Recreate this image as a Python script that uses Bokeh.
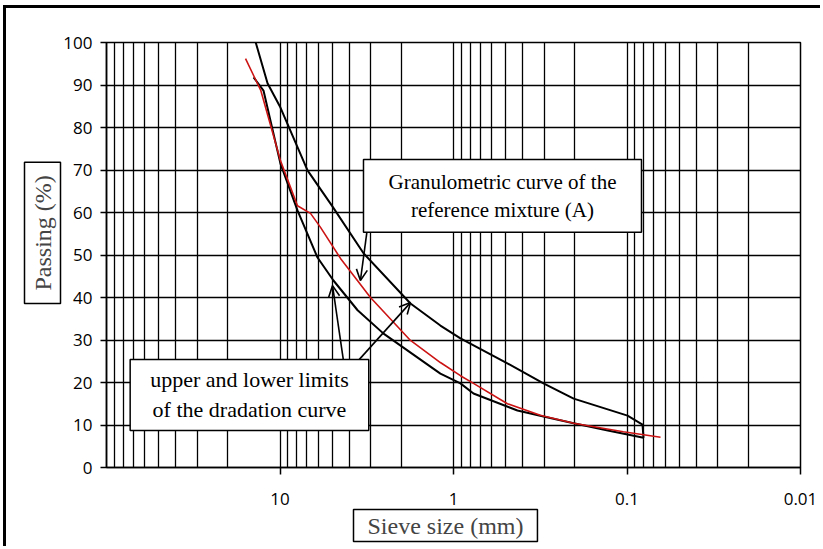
import math
from bokeh.plotting import figure
from bokeh.models import (Range1d, FixedTicker, CustomJSTickFormatter, Label, Arrow, OpenHead, Title)
from bokeh.embed import file_html
from bokeh.resources import INLINE

# ---- data ----
sieve_upper = [13.8, 11.8, 9.94, 6.94, 5.0, 3.30, 1.77, 1.19, 0.912, 0.489, 0.303, 0.203, 0.0993, 0.0814, 0.0803]
pass_upper = [100, 90.4, 84.7, 69.9, 61.5, 50.4, 38.6, 33.4, 30.4, 24.5, 19.8, 16.2, 12.2, 10.1, 7.0]

sieve_lower = [14.2, 12.45, 9.94, 7.93, 6.08, 4.92, 3.57, 2.53, 1.19, 0.912, 0.767, 0.428, 0.303, 0.203, 0.129, 0.0803]
pass_lower = [91.8, 88.7, 71.5, 60.5, 49.4, 44.0, 37.0, 31.5, 22.1, 19.8, 17.4, 13.4, 12.0, 10.4, 8.7, 7.0]

sieve_mix = [15.8, 12.9, 9.94, 7.93, 6.67, 5.84, 4.48, 3.01, 1.77, 1.19, 0.912, 0.767, 0.489, 0.316, 0.203, 0.105, 0.0641]
pass_mix = [96.2, 88.7, 72.2, 61.6, 59.8, 56.5, 49.2, 40.0, 29.9, 24.7, 21.6, 19.8, 15.0, 12.3, 10.4, 8.4, 7.1]

x_ticks = [10, 1, 0.1, 0.01]
y_ticks = [0, 10, 20, 30, 40, 50, 60, 70, 80, 90, 100]

serif = "Liberation Serif"
sans = "Open Sans"

p = figure(width=817, height=541, x_axis_type="log",
           x_range=Range1d(100, 0.01), y_range=Range1d(0, 100),
           output_backend="svg", toolbar_location=None,
           min_border_left=95, min_border_right=23, min_border_top=34, min_border_bottom=82)
p.styles = {"margin-left": "3px", "margin-top": "5px",
            "border-top": "3px solid black", "border-left": "3px solid black"}

p.outline_line_color = "black"
p.outline_line_width = 1.5

# grid
grid_ticks = []
for e in range(-2, 2):
    for m in range(1, 10):
        grid_ticks.append(m * 10 ** e)
grid_ticks.append(100)
p.xgrid.ticker = FixedTicker(ticks=grid_ticks)
p.xgrid.grid_line_color = "black"
p.xgrid.grid_line_width = 1.3
p.ygrid.ticker = FixedTicker(ticks=y_ticks)
p.ygrid.grid_line_color = "black"
p.ygrid.grid_line_width = 1.3

# axes
p.xaxis.ticker = FixedTicker(ticks=x_ticks)
p.xaxis.formatter = CustomJSTickFormatter(code="return String(Number(tick.toPrecision(3)));")
p.xaxis.minor_tick_line_color = None
p.xaxis.major_tick_out = 7
p.xaxis.major_tick_in = 0
p.xaxis.major_label_standoff = 18
p.xaxis.axis_label_standoff = 0
p.xaxis.axis_line_color = "black"
p.xaxis.axis_line_width = 1.5
p.xaxis.major_tick_line_width = 1.5

p.yaxis.ticker = FixedTicker(ticks=y_ticks)
p.yaxis.minor_tick_line_color = None
p.yaxis.major_tick_out = 6
p.yaxis.major_tick_in = 0
p.yaxis.major_label_standoff = 8
p.yaxis.axis_label_standoff = 0
p.yaxis.axis_line_color = "black"
p.yaxis.axis_line_width = 1.5
p.yaxis.major_tick_line_width = 1.5

for ax in (p.xaxis, p.yaxis):
    ax.major_label_text_font = sans
    ax.major_label_text_font_size = "17px"
    ax.major_label_text_color = "black"

# boxed axis titles
p.add_layout(Title(text="Sieve size (mm)", align="left", offset=247,
                   text_font=serif, text_font_size="24px", text_font_style="normal",
                   background_fill_color="white", border_line_color="black",
                   border_line_width=1.5, padding=(14, 3), standoff=0), "below")
p.add_layout(Title(text="Passing (%)", align="left", offset=164,
                   text_font=serif, text_font_size="24px", text_font_style="normal",
                   background_fill_color="white", border_line_color="black",
                   border_line_width=1.5, padding=(13, 5), standoff=0), "left")

# curves
p.line(sieve_upper, pass_upper, line_color="black", line_width=2)
p.line(sieve_lower, pass_lower, line_color="black", line_width=2)
p.line(sieve_mix, pass_mix, line_color="#cc1414", line_width=1.6)

# arrows
arrow_specs = [
    (3.13, 56.5, 3.44, 44.0),
    (4.31, 25.2, 4.98, 42.8),
    (3.53, 25.2, 1.77, 38.8),
]
for xs, ys, xe, ye in arrow_specs:
    p.add_layout(Arrow(end=OpenHead(size=11, line_width=1.6, line_color="black"),
                       x_start=xs, y_start=ys, x_end=xe, y_end=ye,
                       line_width=1.6, line_color="black"))

def boxed(text, x, y, size, pad, lh=1.2):
    p.add_layout(Label(x=x, y=y, text=text, x_offset=3, y_offset=-3,
                       text_align="center", text_baseline="middle",
                       text_font=serif, text_font_size=size, text_color=None,
                       text_line_height=lh,
                       background_fill_color="#888888", border_line_color=None,
                       padding=pad))
    p.add_layout(Label(x=x, y=y, text=text,
                       text_align="center", text_baseline="middle",
                       text_font=serif, text_font_size=size, text_color="black",
                       text_line_height=lh,
                       background_fill_color="white", border_line_color="black",
                       border_line_width=1.5, padding=pad))

boxed("Granulometric curve of the\nreference mixture (A)", 0.522, 63.9, "21px", (25, 10))
boxed("upper and lower limits\nof the dradation curve", 15.0, 17.06, "22px", (20, 8))

open("out.html", "w").write(file_html(p, INLINE))
